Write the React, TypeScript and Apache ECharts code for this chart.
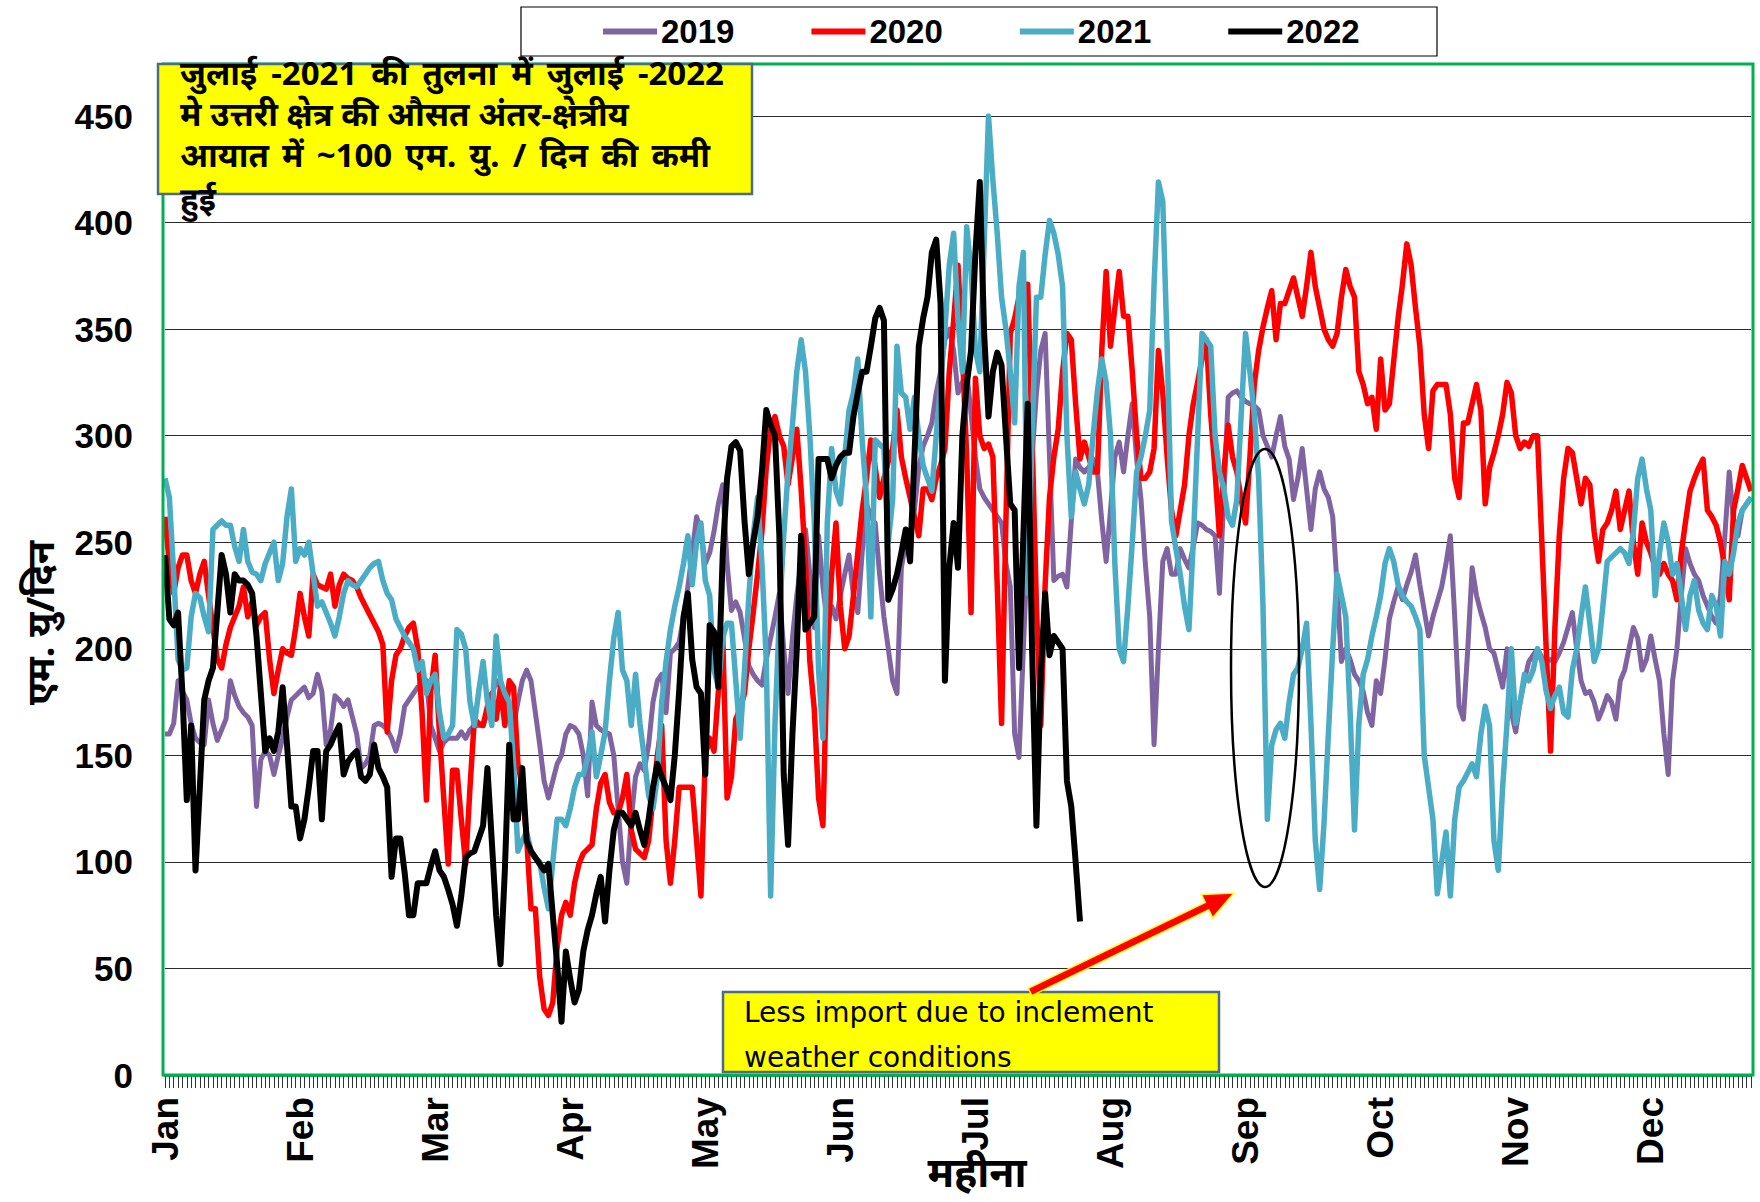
import React, { useEffect, useRef } from "react";
import * as echarts from "echarts";

// Calendar used for the category axis (one category per day of the year)
const MONTH_NAMES = ["Jan", "Feb", "Mar", "Apr", "May", "Jun", "Jul", "Aug", "Sep", "Oct", "Nov", "Dec"];
const MONTH_DAYS = [31, 28, 31, 30, 31, 30, 31, 31, 30, 31, 30, 31];

const SERIES_NAMES = ["2019", "2020", "2021", "2022"];
const SERIES_COLORS = ["#8064A2", "#FF0000", "#4BACC6", "#000000"];

// Daily average inter-regional import of the northern region (MU/day)
const IMPORT_2019 = [
  160, 160, 165, 185, 180, 176, 165, 158, 156, 155, 176, 165, 157, 162, 167, 185, 178, 173, 170, 168, 164, 126, 148, 152, 150, 141, 150, 158, 168, 176, 178,
  180, 182, 177, 179, 188, 180, 155, 162, 178, 176, 173, 176, 168, 160, 144, 146, 150, 164, 165, 164, 162, 158, 152, 160, 173, 176, 179, 182, 183, 185, 164,
  158, 152, 156, 158, 158, 158, 161, 158, 162, 164, 164, 164, 170, 178, 185, 182, 176, 170, 164, 175, 185, 190, 185, 170, 155, 138, 130, 138, 146, 150,
  160, 164, 163, 160, 150, 131, 175, 164, 162, 161, 160, 150, 125, 100, 90, 120, 140, 146, 143, 155, 175, 185, 188, 170, 198, 200, 203, 215, 229, 245, 262,
  255, 240, 245, 255, 268, 277, 240, 218, 222, 217, 205, 192, 188, 185, 183, 195, 205, 215, 226, 200, 179, 205, 225, 240, 256, 235, 210, 253, 229, 212,
  220, 214, 225, 235, 244, 225, 217, 245, 268, 262, 259, 235, 215, 200, 185, 179, 238, 250, 253, 265, 285, 295, 300, 306, 320, 330, 345, 350, 340,
  320, 325, 330, 310, 290, 275, 271, 268, 265, 262, 259, 240, 229, 160, 149, 200, 250, 290, 320, 340, 348, 290, 232, 234, 235, 229, 260, 289, 285, 283, 285, 289,
  283, 260, 241, 265, 290, 297, 283, 300, 315, 289, 270, 240, 215, 155, 200, 241, 247, 235, 235, 247, 242, 238, 248, 259, 258, 256, 255, 253, 226, 271,
  318, 320, 321, 318, 316, 315, 314, 312, 300, 295, 290, 300, 309, 295, 289, 270, 280, 294, 275, 256, 275, 283, 275, 271, 262, 230, 194, 200, 195, 188,
  185, 180, 170, 164, 185, 179, 195, 214, 222, 229, 223, 230, 236, 244, 230, 218, 206, 215, 222, 229, 240, 253, 215, 173, 167, 200, 238, 225, 217, 210,
  200, 198, 190, 182, 200, 170, 161, 175, 185, 194, 197, 200, 196, 194, 195, 194, 198, 203, 210, 217, 200, 185, 179, 180, 175, 167, 172, 178, 175, 167, 185,
  190, 200, 210, 205, 190, 195, 206, 195, 185, 160, 141, 185, 200, 225, 247, 240, 235, 232, 225, 220, 215, 212, 225, 253, 283, 260, 253, 265, 268, 271,
];

const IMPORT_2020 = [
  262, 240, 226, 238, 244, 244, 232, 226, 235, 241, 225, 210, 195, 191, 202, 210, 215, 220, 229, 215, 222, 211, 215, 217, 195, 179, 190, 200, 198, 197, 210,
  226, 215, 206, 235, 230, 229, 228, 235, 220, 230, 235, 233, 232, 229, 224, 220, 216, 212, 208, 202, 161, 185, 197, 200, 206, 210, 212, 200, 170, 129,
  180, 197, 160, 129, 99, 143, 143, 120, 99, 135, 167, 165, 164, 173, 179, 167, 182, 164, 185, 182, 146, 135, 111, 78, 78, 46, 31, 28, 34, 60, 75,
  81, 75, 90, 99, 104, 106, 108, 125, 137, 141, 128, 123, 123, 130, 141, 115, 106, 104, 102, 110, 130, 150, 164, 110, 90, 110, 135, 135, 135, 135, 110,
  84, 150, 158, 152, 180, 206, 130, 140, 167, 172, 179, 200, 217, 235, 255, 285, 303, 309, 300, 295, 277, 290, 303, 275, 240, 194, 172, 130, 117, 200,
  235, 259, 220, 200, 206, 225, 245, 265, 280, 298, 285, 271, 280, 288, 294, 312, 290, 280, 271, 262, 253, 275, 275, 270, 280, 286, 294, 330, 354, 380,
  340, 290, 217, 327, 300, 294, 296, 290, 230, 165, 260, 348, 355, 365, 371, 371, 300, 220, 164, 230, 271, 290, 303, 330, 348, 345, 315, 289, 297, 290, 283,
  283, 340, 377, 342, 360, 377, 356, 356, 330, 300, 280, 280, 283, 294, 340, 320, 290, 265, 253, 265, 277, 300, 315, 325, 336, 345, 310, 283, 253, 283,
  305, 290, 283, 270, 259, 290, 324, 340, 351, 360, 368, 345, 362, 362, 368, 374, 365, 356, 370, 386, 370, 360, 350, 345, 342, 348, 365, 378, 370, 365,
  330, 324, 315, 318, 303, 336, 312, 315, 335, 355, 371, 390, 380, 360, 342, 310, 294, 321, 324, 324, 324, 310, 280, 271, 306, 306, 315, 324, 312, 268,
  285, 292, 300, 310, 325, 320, 300, 294, 297, 295, 300, 300, 250, 200, 152, 210, 253, 280, 294, 292, 280, 268, 280, 277, 255, 241, 256, 259, 265, 274, 256,
  265, 274, 250, 235, 259, 250, 245, 238, 235, 240, 235, 232, 223, 245, 260, 274, 280, 285, 289, 265, 262, 258, 250, 238, 223, 265, 275, 286, 280, 274,
];

const IMPORT_2021 = [
  280, 271, 235, 195, 190, 191, 215, 226, 224, 215, 208, 256, 258, 260, 258, 258, 248, 241, 256, 241, 236, 235, 232, 240, 245, 250, 232, 240, 262, 275, 241,
  247, 244, 250, 235, 220, 222, 217, 212, 206, 215, 226, 232, 230, 229, 232, 235, 238, 240, 241, 232, 226, 223, 214, 210, 206, 203, 200, 190, 194, 179, 185,
  188, 170, 158, 160, 164, 209, 207, 200, 175, 164, 180, 194, 175, 164, 206, 185, 179, 175, 146, 105, 110, 114, 105, 102, 100, 88, 78, 100, 120, 120,
  117, 125, 135, 141, 141, 149, 161, 140, 150, 161, 185, 205, 217, 190, 185, 164, 188, 165, 149, 131, 125, 140, 175, 194, 209, 220, 229, 240, 253, 230,
  250, 259, 232, 225, 190, 182, 205, 212, 212, 185, 158, 190, 225, 253, 271, 240, 194, 84, 165, 215, 253, 283, 305, 330, 345, 330, 300, 260, 190, 158,
  259, 294, 274, 268, 290, 312, 320, 336, 298, 271, 215, 298, 296, 294, 250, 270, 342, 320, 318, 303, 318, 300, 286, 280, 274, 300, 324, 350, 380, 395, 354,
  330, 398, 377, 340, 330, 390, 450, 420, 395, 365, 350, 330, 306, 370, 386, 226, 300, 365, 365, 385, 401, 395, 385, 370, 300, 262, 283, 275, 268, 277, 300,
  321, 336, 325, 300, 240, 200, 194, 220, 250, 283, 290, 300, 312, 371, 419, 410, 342, 260, 247, 235, 220, 209, 250, 300, 348, 345, 342, 300, 283, 275,
  262, 258, 270, 310, 348, 330, 310, 280, 220, 120, 155, 162, 165, 158, 175, 188, 191, 200, 212, 165, 110, 87, 118, 160, 200, 235, 225, 215, 170, 115,
  165, 188, 195, 206, 215, 225, 240, 247, 241, 230, 225, 222, 220, 215, 209, 150, 135, 120, 85, 100, 114, 84, 120, 135, 138, 142, 146, 140, 160, 173,
  164, 110, 96, 135, 165, 200, 165, 175, 188, 185, 190, 200, 194, 180, 172, 178, 182, 170, 168, 190, 200, 215, 229, 212, 194, 200, 220, 241, 243, 245, 247,
  245, 240, 255, 280, 289, 275, 265, 225, 245, 259, 250, 235, 240, 225, 209, 225, 232, 218, 212, 209, 225, 220, 206, 241, 235, 245, 259, 265, 268, 271,
];

const IMPORT_2022 = [
  244, 214, 211, 217, 179, 129, 164, 96, 135, 176, 185, 191, 217, 244, 235, 217, 235, 232, 232, 230, 226, 206, 179, 152, 158, 152, 161, 182, 155, 126, 126, 111,
  120, 135, 152, 152, 120, 152, 155, 160, 164, 141, 147, 150, 152, 140, 138, 141, 155, 144, 140, 135, 93, 111, 111, 95, 75, 75, 90, 90, 90, 98,
  105, 96, 93, 87, 80, 70, 84, 102, 104, 105, 111, 117, 144, 110, 75, 52, 96, 155, 120, 120, 144, 110, 105, 102, 99, 96, 99, 75, 52, 25,
  58, 45, 34, 40, 58, 68, 75, 85, 93, 72, 96, 115, 123, 123, 120, 117, 123, 115, 108, 120, 135, 146, 140, 135, 129, 150, 180, 215, 226, 195, 182,
  179, 141, 211, 208, 182, 244, 280, 295, 297, 293, 260, 235, 250, 262, 283, 312, 305, 300, 253, 141, 108, 160, 200, 253, 209, 212, 215, 289, 289,
  289, 280, 286, 290, 292, 292, 309, 320, 330, 330, 342, 355, 360, 354, 223, 228, 235, 245, 256, 241, 290, 342, 355, 365, 386, 392, 362, 185, 238, 259, 238,
  300, 324, 340, 386, 419, 348, 309, 330, 339, 333, 300, 268, 265, 191, 253, 315, 200, 117, 188, 226, 197, 206, 203, 200, 138, 126, 100, 72,
];

const SERIES_DATA = [IMPORT_2019, IMPORT_2020, IMPORT_2021, IMPORT_2022];
const SERIES_WIDTHS = [5, 5.5, 5.5, 6];

const Y_TICK_STEP = 50;
const Y_MAX = 450;

// Callout text: each entry is one line, split into words; justified lines are spread to a right edge
const TITLE_LINES: { words: string[]; right: number | null }[] = [
  { words: ["जुलाई", "-2021", "की", "तुलना", "में", "जुलाई", "-2022"], right: 724 },
  { words: ["मे", "उत्तरी", "क्षेत्र", "की", "औसत", "अंतर-क्षेत्रीय"], right: null },
  { words: ["आयात", "में", "~100", "एम.", "यु.", "/", "दिन", "की", "कमी"], right: 710 },
  { words: ["हुई"], right: null },
];
const NOTE_LINES = ["Less import due to inclement", "weather conditions"];
const Y_NAME = "एम. यु/दिन";
const X_NAME = "महीना";

const DAY_LABELS: string[] = MONTH_NAMES.flatMap((m, i) => new Array(MONTH_DAYS[i]).fill(m));

const LATIN = "'Liberation Sans', Arial, sans-serif";
const DEVA = "'Noto Sans', 'Noto Sans Devanagari', 'Lohit Devanagari', 'Mangal', sans-serif";
const TITLE_FONT = `bold 33px ${DEVA}`;

// Filled arrow outline running from (x1, y1) to the tip at (x2, y2)
function arrowPoints(x1: number, y1: number, x2: number, y2: number, shaft: number, headW: number, headL: number) {
  const dx = x2 - x1;
  const dy = y2 - y1;
  const len = Math.hypot(dx, dy);
  const ux = dx / len;
  const uy = dy / len;
  const nx = -uy;
  const ny = ux;
  const bx = x2 - ux * headL;
  const by = y2 - uy * headL;
  const s = shaft / 2;
  const h = headW / 2;
  return [
    [x1 + nx * s, y1 + ny * s],
    [bx + nx * s, by + ny * s],
    [bx + nx * h, by + ny * h],
    [x2, y2],
    [bx - nx * h, by - ny * h],
    [bx - nx * s, by - ny * s],
    [x1 - nx * s, y1 - ny * s],
  ];
}

// Lays the words of one callout line out as separate text elements
function layoutLine(words: string[], right: number | null, left: number, y: number) {
  const ctx = document.createElement("canvas").getContext("2d");
  const widths = words.map((w) => {
    if (!ctx) return w.length * 16;
    ctx.font = TITLE_FONT;
    return ctx.measureText(w).width;
  });
  const space = ctx ? (ctx.font = TITLE_FONT, ctx.measureText(" ").width) : 9;
  const total = widths.reduce((a, b) => a + b, 0);
  let gap = space;
  if (right !== null && words.length > 1) {
    gap = Math.max(space, (right - left - total) / (words.length - 1));
  }
  let x = left;
  return words.map((w, i) => {
    const el = {
      type: "text",
      z: 101,
      x,
      y,
      style: {
        text: w,
        font: TITLE_FONT,
        fill: "#000",
        textAlign: "left",
        textVerticalAlign: "middle",
      },
    };
    x += widths[i] + gap;
    return el;
  });
}

export default function App() {
  const ref = useRef<HTMLDivElement>(null);

  useEffect(() => {
    if (!ref.current) return;
    const chart = echarts.init(ref.current, undefined, { renderer: "svg" });

    const series = SERIES_NAMES.map((name, i) => ({
      name,
      type: "line",
      data: SERIES_DATA[i],
      symbol: "none",
      showSymbol: false,
      smooth: false,
      lineStyle: { color: SERIES_COLORS[i], width: SERIES_WIDTHS[i], join: "round" },
      itemStyle: { color: SERIES_COLORS[i] },
      emphasis: { disabled: true },
    }));

    const lineYs = [72, 113, 154, 198];
    const titleTexts = TITLE_LINES.flatMap((line, i) => layoutLine(line.words, line.right, 180, lineYs[i]));

    const noteTexts = NOTE_LINES.map((line, i) => ({
      type: "text",
      z: 101,
      x: 744,
      y: 1012 + i * 45,
      style: {
        text: line,
        font: `28px 'DejaVu Sans', sans-serif`,
        fill: "#000",
        textAlign: "left",
        textVerticalAlign: "middle",
      },
    }));

    const arrow = arrowPoints(1030, 992, 1234, 893, 8, 26, 30);

    chart.setOption({
      animation: false,
      backgroundColor: "#ffffff",
      grid: { left: 165, right: 9, top: 116, bottom: 127, containLabel: false },
      legend: {
        data: SERIES_NAMES,
        left: 598,
        top: 10,
        itemWidth: 54,
        itemHeight: 6,
        itemGap: 77,
        icon: "rect",
        textStyle: { fontSize: 33, fontWeight: "bold", fontFamily: LATIN, color: "#000", padding: [0, 0, 0, -1] },
      },
      xAxis: {
        type: "category",
        data: DAY_LABELS,
        boundaryGap: false,
        axisLine: { show: true, lineStyle: { color: "#00B050", width: 3 } },
        axisTick: { show: true, interval: 0, length: 13, lineStyle: { color: "#333", width: 1 } },
        axisLabel: {
          interval: 30,
          rotate: 90,
          margin: 22,
          fontSize: 37,
          fontWeight: "bold",
          fontFamily: LATIN,
          color: "#000",
        },
        splitLine: { show: false },
      },
      yAxis: {
        type: "value",
        min: 0,
        max: Y_MAX,
        interval: Y_TICK_STEP,
        axisLine: { show: false },
        axisTick: { show: false },
        axisLabel: { fontSize: 35, fontWeight: "bold", fontFamily: LATIN, color: "#000", margin: 32 },
        splitLine: { lineStyle: { color: "#2a2a2a", width: 1 } },
      },
      series,
      graphic: [
        {
          type: "rect",
          z: 0,
          shape: { x: 521, y: 7, width: 916, height: 49 },
          style: { fill: "#fff", stroke: "#000", lineWidth: 1.2 },
        },
        {
          type: "rect",
          z: 50,
          shape: { x: 163, y: 64, width: 1590, height: 1011 },
          style: { fill: "none", stroke: "#00B050", lineWidth: 3 },
        },
        {
          type: "ellipse",
          z: 60,
          shape: { cx: 1265, cy: 668, rx: 34, ry: 219 },
          style: { fill: "none", stroke: "#000", lineWidth: 2.5 },
        },
        {
          type: "rect",
          z: 100,
          shape: { x: 158, y: 64, width: 594, height: 130 },
          style: { fill: "#FFFF00", stroke: "#4D6A88", lineWidth: 2.5 },
        },
        ...titleTexts,
        {
          type: "rect",
          z: 100,
          shape: { x: 723, y: 992, width: 496, height: 80 },
          style: { fill: "#FFFF00", stroke: "#4D6A88", lineWidth: 2.5 },
        },
        ...noteTexts,
        {
          type: "polygon",
          z: 102,
          shape: { points: arrow },
          style: { fill: "#FF0000", stroke: "#FFFF00", lineWidth: 1.5 },
        },
        {
          type: "text",
          z: 101,
          x: 39,
          y: 623,
          rotation: Math.PI / 2,
          style: {
            text: Y_NAME,
            font: `bold 38px ${DEVA}`,
            fill: "#000",
            textAlign: "center",
            textVerticalAlign: "middle",
          },
        },
        {
          type: "text",
          z: 101,
          x: 977,
          y: 1171,
          style: {
            text: X_NAME,
            font: `bold 41px ${DEVA}`,
            fill: "#000",
            textAlign: "center",
            textVerticalAlign: "middle",
          },
        },
      ],
    });

    return () => chart.dispose();
  }, []);

  return (
    <div
      ref={ref}
      style={{ position: "absolute", left: 0, top: 0, width: 1760, height: 1202, background: "#fff" }}
    />
  );
}
